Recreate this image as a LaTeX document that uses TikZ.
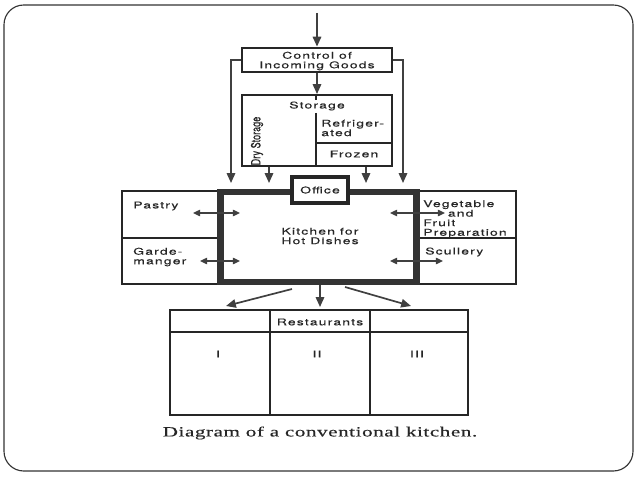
\documentclass[tikz,border=0pt]{standalone}
\usepackage{fontspec}
\newfontfamily\planfont[FakeStretch=1.5,LetterSpace=12.5,FakeBold=0.4]{TeX Gyre Heros}
\newfontfamily\dryfont[FakeStretch=0.72,FakeBold=0.5]{TeX Gyre Heros}
\newfontfamily\capfont[FakeStretch=1.5,LetterSpace=4,FakeBold=0.3]{Liberation Serif}
\usetikzlibrary{arrows.meta,positioning,fit}

\begin{document}
\begin{tikzpicture}[x=0.025cm, y=-0.025cm,
  box/.style={draw=black!85, line width=1.4pt, inner sep=0pt},
  heavy/.style={draw=black!85, line width=2pt, inner sep=0pt},
  wall/.style={draw=black!80, line width=4.5pt, inner sep=0pt},
  sep/.style={draw=black!85, line width=1pt},
  lbl/.style={font=\planfont\fontsize{6.6}{6.8}\selectfont, inner sep=0pt, text=black!85},
  arr/.style={draw=black!75, line width=1.2pt, -{Triangle[length=7pt,width=6pt]}},
  darr/.style={draw=black!75, line width=1pt, {Triangle[length=5pt,width=4.5pt]}-{Triangle[length=5pt,width=4.5pt]}}]
\useasboundingbox (0,0) rectangle (638,479);
\draw[black!80, line width=0.8pt, rounded corners=14pt] (4,5) rectangle (633,471);

\node[heavy, fit={(242,48) (392,72)}] (ctrl) {};
\node[lbl, align=center] (ctrllbl) at (317,61) {Control of\\Incoming Goods};
\node[box, fit={(242,95) (392,166)}] (store) {};
\node[lbl] (storelbl) at (317,106) {Storage};
\draw[sep] (store.north -| 316,0) -- (316,100);
\draw[sep] (316,113) -- (store.south -| 316,0);
\draw[sep] (316,143) -- (store.east |- 0,143);
\node[lbl, align=left, anchor=west] (refr) at (321,128) {Refriger-\\ated};
\node[lbl] (froz) at (354,154) {Frozen};
\node[font=\dryfont\fontsize{9}{9}\selectfont, text=black!85, inner sep=0pt, rotate=90] (dry) at (257,141) {Dry Storage};

\coordinate (in) at (317,13);
\coordinate (la) at (231,183);
\coordinate (ra) at (403,183);
\coordinate (sa) at (269,183);
\coordinate (sb) at (366,183);
\draw[arr] (in) -- (ctrl.north);
\draw[arr] (ctrl.south) -- (store.north);
\draw[arr] (ctrl.west) -| (la);
\draw[arr] (ctrl.east) -| (ra);
\draw[arr] (store.south -| sa) -- (sa);
\draw[arr] (store.south -| sb) -- (sb);

\node[box, fit={(122,191) (220.5,238)}] (pastry) {};
\node[box, fit={(122,238) (220.5,284)}] (garde) {};
\node[box, fit={(416.5,191) (516,238)}] (veg) {};
\node[box, fit={(416.5,238) (516,284)}] (scul) {};
\node[wall, fit={(220.5,192) (416.5,282)}] (hot) {};
\node[heavy, fill=white, line width=2.4pt, fit={(292,177) (348,203)}] (office) {};
\node[lbl] at (office) {Office};
\node[lbl, align=center] (hotlbl) at (320,236) {Kitchen for\\Hot Dishes};
\node[lbl, anchor=west] (pastrylbl) at (133,206) {Pastry};
\node[lbl, align=left, anchor=west] (gardelbl) at (133,257) {Garde-\\manger};
\node[lbl, align=left, anchor=west] (veglbl) at (423,219) {Vegetable\\\hspace{17.5pt}and\\Fruit\\Preparation};
\node[lbl, anchor=west] (scullbl) at (425,252) {Scullery};

\draw[darr] (193,213) -- (240,213);
\draw[darr] (200,261) -- (240,261);
\draw[darr] (390,213) -- (445,213);
\draw[darr] (390,261) -- (443,261);

\node[box, fit={(170,310) (270,415)}] (r1) {};
\node[box, fit={(270,310) (370,415)}] (r2) {};
\node[box, fit={(370,310) (468,415)}] (r3) {};
\draw[sep] (r1.west |- 0,332) -- (r3.east |- 0,332);
\node[lbl] (restlbl) at (320,322) {Restaurants};
\node[lbl] at (218,354) {I};
\node[lbl] at (317,354) {II};
\node[lbl] at (417,354) {III};

\coordinate (ka) at (292,289);
\coordinate (kb) at (345,287);
\draw[arr] (ka) -- (226,306);
\draw[arr] (hot.south -| 320,0) -- (320,307);
\draw[arr] (kb) -- (411,306);

\node[font=\capfont\fontsize{10}{10}\selectfont, text=black!85] (cap) at (320,433) {Diagram of a conventional kitchen.};
\end{tikzpicture}
\end{document}
